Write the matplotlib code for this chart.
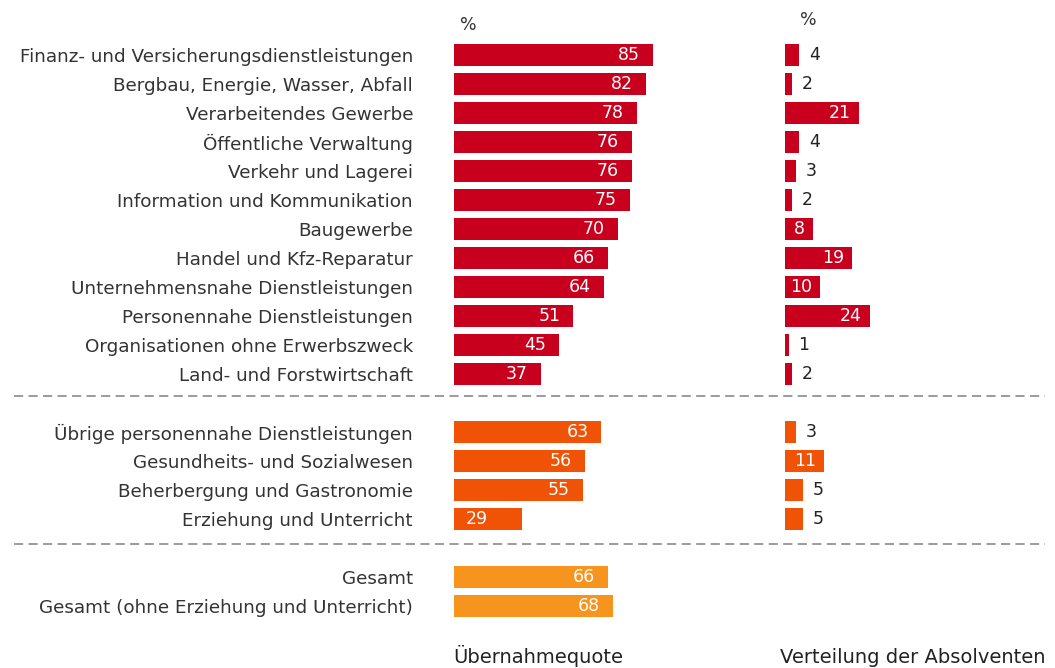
import matplotlib.pyplot as plt
from matplotlib.lines import Line2D

plt.rcParams["font.family"] = ["DejaVu Sans"]

# Wirtschaftszweige, Übernahmequote und Verteilung der Absolventen (in %)
branchen = [
    "Finanz- und Versicherungsdienstleistungen",
    "Bergbau, Energie, Wasser, Abfall",
    "Verarbeitendes Gewerbe",
    "Öffentliche Verwaltung",
    "Verkehr und Lagerei",
    "Information und Kommunikation",
    "Baugewerbe",
    "Handel und Kfz-Reparatur",
    "Unternehmensnahe Dienstleistungen",
    "Personennahe Dienstleistungen",
    "Organisationen ohne Erwerbszweck",
    "Land- und Forstwirtschaft",
]
quote_branchen = [85, 82, 78, 76, 76, 75, 70, 66, 64, 51, 45, 37]
anteil_branchen = [4, 2, 21, 4, 3, 2, 8, 19, 10, 24, 1, 2]

personennah = [
    "Übrige personennahe Dienstleistungen",
    "Gesundheits- und Sozialwesen",
    "Beherbergung und Gastronomie",
    "Erziehung und Unterricht",
]
quote_personennah = [63, 56, 55, 29]
anteil_personennah = [3, 11, 5, 5]

gesamt = ["Gesamt", "Gesamt (ohne Erziehung und Unterricht)"]
quote_gesamt = [66, 68]

ROT = "#C8001E"
ORANGE = "#F05206"
HELLORANGE = "#F7941E"
TEXT = "#333333"

W, H = 1055, 668
fig = plt.figure(figsize=(W / 100, H / 100), dpi=100)


def px_axes(x0, x1, y0, y1):
    return fig.add_axes([x0 / W, 1 - y1 / H, (x1 - x0) / W, (y1 - y0) / H])


# Zeilenpositionen: Gruppen durch je eine Leerzeile getrennt
pos1 = list(range(0, 12))
pos2 = list(range(13, 17))
pos3 = [18, 19]

ax_l = px_axes(454, 688, 40.5, 620.5)
ax_r = px_axes(785, 1050, 40.5, 620.5)
ax_l.set_xlim(0, 100)
ax_r.set_xlim(0, 75)

for ax in (ax_l, ax_r):
    ax.set_ylim(19.5, -0.5)
    for s in ax.spines.values():
        s.set_visible(False)
    ax.set_xticks([])
    ax.tick_params(axis="y", length=0)

bh = 0.76


def balken(ax, pos, werte, farbe, innen_ab, pad_px, px_per_unit, links_bis=0):
    ax.barh(pos, werte, height=bh, color=farbe)
    for p, v in zip(pos, werte):
        if v < innen_ab:
            ax.text(v + 10 / px_per_unit, p, str(v), ha="left", va="center",
                    color="#222222", fontsize=12.5)
        elif v < links_bis:
            # kurze Balken: Wert am Balkenanfang
            ax.text(12 / px_per_unit, p, str(v), ha="left", va="center",
                    color="white", fontsize=12.5)
        else:
            ax.text(v - pad_px / px_per_unit, p, str(v), ha="right", va="center",
                    color="white", fontsize=12.5)


balken(ax_l, pos1, quote_branchen, ROT, 20, 13, 2.34, links_bis=35)
balken(ax_l, pos2, quote_personennah, ORANGE, 20, 13, 2.34, links_bis=35)
balken(ax_l, pos3, quote_gesamt, HELLORANGE, 20, 13, 2.34, links_bis=35)

balken(ax_r, pos1, anteil_branchen, ROT, 8, 8, 3.53)
balken(ax_r, pos2, anteil_personennah, ORANGE, 8, 8, 3.53)

ax_l.set_yticks(pos1 + pos2 + pos3)
ax_l.set_yticklabels(branchen + personennah + gesamt, fontsize=13.2, color=TEXT)
ax_l.tick_params(axis="y", pad=29.5)
ax_r.set_yticks([])

# gestrichelte Trennlinien zwischen den Gruppen
for y in (396, 544):
    fig.add_artist(Line2D([14 / W, 1045 / W], [1 - y / H, 1 - y / H],
                          color="#808080", lw=1.1, dashes=(6, 3.5)))

fig.text(468 / W, 1 - 25 / H, "%", ha="center", va="center", fontsize=12.5, color=TEXT)
fig.text(808 / W, 1 - 20 / H, "%", ha="center", va="center", fontsize=12.5, color=TEXT)

fig.text(453 / W, 1 - 663 / H, "Übernahmequote", ha="left", va="baseline",
         fontsize=14, color="#222222")
fig.text(780 / W, 1 - 663 / H, "Verteilung der Absolventen", ha="left", va="baseline",
         fontsize=14, color="#222222")

fig.savefig("out.png", dpi=100)
